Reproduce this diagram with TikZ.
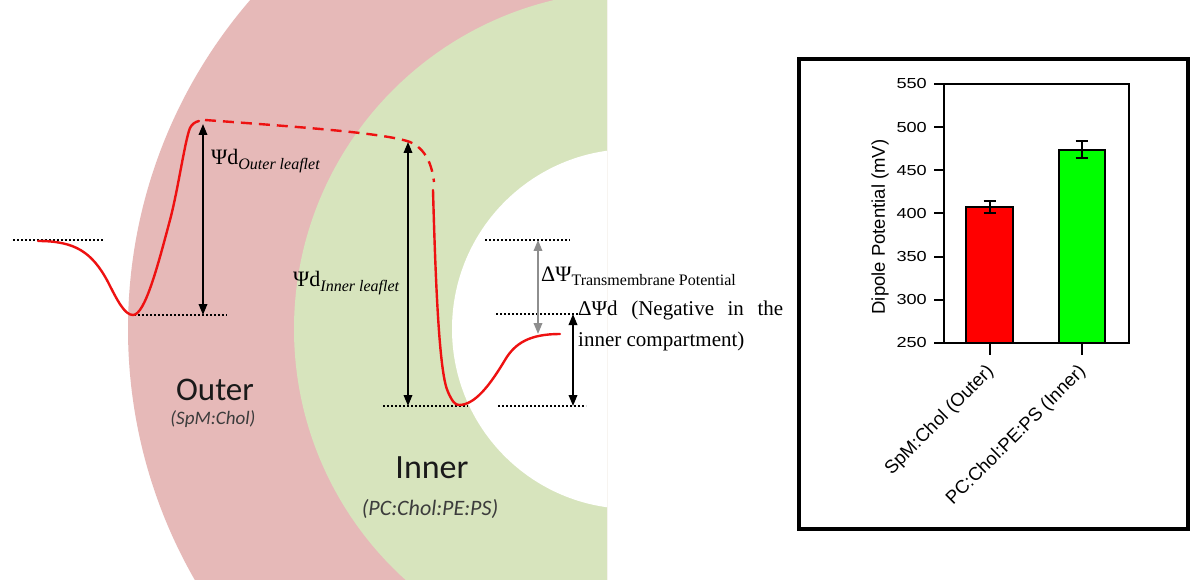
\documentclass[tikz,border=0pt]{standalone}
\usepackage{fontspec}
\setmainfont{Liberation Serif}
\newfontfamily\calfont{Carlito}
\newfontfamily\arialfont{Liberation Sans}
\usetikzlibrary{arrows.meta}
\definecolor{pinkbg}{HTML}{E6B9B8}
\definecolor{greenbg}{HTML}{D7E4BD}
\definecolor{redline}{HTML}{EE1111}
\definecolor{arrgray}{HTML}{8E8E8E}
\definecolor{txtdark}{HTML}{1A1A1A}
\definecolor{subgray}{HTML}{3C3C3C}
\definecolor{barred}{HTML}{FF0000}
\definecolor{bargreen}{HTML}{00FF00}
\begin{document}
\begin{tikzpicture}[x=1pt,y=-1pt,
  dotline/.style={line width=2pt, dash pattern=on 1.6pt off 2.4pt, black},
  potarrow/.style={line width=1.9pt, black, {Triangle[length=11pt,width=8.5pt]}-{Triangle[length=11pt,width=8.5pt]}},
  grayarrow/.style={line width=1.9pt, arrgray, {Triangle[length=11pt,width=8.5pt]}-{Triangle[length=11pt,width=8.5pt]}},
  redcurve/.style={line width=2.4pt, redline, line cap=round},
  reddashed/.style={line width=2.4pt, redline, dash pattern=on 11pt off 7pt},
  psilabel/.style={anchor=base west, inner sep=0pt, font=\fontsize{22}{26}\selectfont},
  leaflabel/.style={anchor=base, inner sep=0pt, text=txtdark},
  ticklab/.style={anchor=east, inner sep=0pt, font=\arialfont\fontsize{14.5}{16}\selectfont},
  catlab/.style={anchor=east, rotate=45, inner sep=0pt, font=\arialfont\fontsize{18.5}{20}\selectfont},
  chartline/.style={line width=2pt, black},
]
\useasboundingbox (0,0) rectangle (1200,580);
\fill[white] (0,0) rectangle (1200,580);

% membrane bands
\coordinate (C) at (632,329);
\begin{scope}
  \clip (0,0) rectangle (607,580);
  \fill[pinkbg] (C) circle[radius=504pt];
  \fill[greenbg] (C) circle[radius=338pt];
  \fill[white] (C) circle[radius=180pt];
\end{scope}

% dotted reference levels
\coordinate (d1a) at (13,240);  \coordinate (d1b) at (103,240);
\coordinate (d2a) at (134,315); \coordinate (d2b) at (227,315);
\coordinate (d3a) at (383,406); \coordinate (d3b) at (468,406);
\coordinate (d4a) at (498,406); \coordinate (d4b) at (586,406);
\coordinate (d5a) at (485,240); \coordinate (d5b) at (570,240);
\coordinate (d6a) at (496,314); \coordinate (d6b) at (580,314);
\draw[dotline] (d1a) -- (d1b);
\draw[dotline] (d2a) -- (d2b);
\draw[dotline] (d3a) -- (d3b);
\draw[dotline] (d4a) -- (d4b);
\draw[dotline] (d5a) -- (d5b);
\draw[dotline] (d6a) -- (d6b);

% potential profile
\draw[redcurve] (38,241) .. controls (75,241) and (92,252) .. (108,282)
  .. controls (118,302) and (125,315) .. (133,315)
  .. controls (145,315) and (158,265) .. (170,220)
  .. controls (178,190) and (185,140) .. (190,128)
  .. controls (192,124) and (195,122) .. (199,121);
\draw[reddashed] (205,120) .. controls (300,127) and (385,133) .. (410,142)
  .. controls (426,149) and (432,165) .. (434,182);
\draw[redcurve] (433,190) .. controls (436,300) and (440,375) .. (448,392)
  .. controls (452,401) and (455,405) .. (459,405)
  .. controls (475,405) and (490,385) .. (505,360)
  .. controls (515,343) and (530,334) .. (560,334);

% potential arrows
\coordinate (a1t) at (203,124); \coordinate (a1b) at (203,315);
\coordinate (a2t) at (408,142); \coordinate (a2b) at (408,406);
\coordinate (a3t) at (538,240); \coordinate (a3b) at (538,334);
\coordinate (a4t) at (573,314); \coordinate (a4b) at (573,406);
\draw[potarrow] (a1b) -- (a1t);
\draw[potarrow] (a2b) -- (a2t);
\draw[grayarrow] (a3b) -- (a3t);
\draw[potarrow] (a4b) -- (a4t);

% labels of the profile
\node[psilabel] (psiout) at (211,165) {Ψd\raisebox{-5pt}{\fontsize{16}{19}\selectfont\itshape Outer leaflet}};
\node[psilabel] (psiin) at (293,287) {Ψd\raisebox{-5pt}{\fontsize{16}{19}\selectfont\itshape Inner leaflet}};
\node[psilabel] (dtm) at (541,281) {ΔΨ\raisebox{-5pt}{\fontsize{16}{19}\selectfont Transmembrane Potential}};
\node[anchor=base west, inner sep=0pt, align=left, font=\fontsize{21}{31}\selectfont] (dpsi) at (578,346)
  {\makebox[205pt][s]{ΔΨd (Negative in the}\\inner\ compartment)};

% leaflet names
\node[leaflabel, font=\calfont\fontsize{33}{36}\selectfont] (outer) at (215,400) {Outer};
\node[leaflabel, text=subgray, font=\calfont\itshape\fontsize{19}{22}\selectfont] (outercomp) at (213,424) {(SpM:Chol)};
\node[leaflabel, font=\calfont\fontsize{34}{38}\selectfont] (inner) at (432,478) {Inner};
\node[leaflabel, text=subgray, font=\calfont\itshape\fontsize{22}{26}\selectfont] (innercomp) at (430,515) {(PC:Chol:PE:PS)};

% chart
\draw[line width=3.5pt, black] (799,59) rectangle (1188,529);
\draw[chartline, fill=barred] (966,343) rectangle (1013,206.6);
\draw[chartline, fill=bargreen] (1058.5,343) rectangle (1105,149.6);
\draw[chartline] (944,84) rectangle (1129,343);
% error bars
\draw[chartline] (989.5,200.6) -- (989.5,212.6);
\draw[chartline] (983.5,200.6) -- (995.5,200.6);
\draw[chartline] (983.5,212.6) -- (995.5,212.6);
\draw[chartline] (1081.7,141) -- (1081.7,158.2);
\draw[chartline] (1075.7,141) -- (1087.7,141);
\draw[chartline] (1075.7,158.2) -- (1087.7,158.2);
% y ticks
\foreach \v/\yy in {550/84,500/127.2,450/170.4,400/213.5,350/256.7,300/299.8,250/343}{
  \draw[chartline] (934,\yy) -- (944,\yy);
  \node[ticklab] (tick\v) at (927,\yy) {\scalebox{1.25}[1]{\v}};
}
% x ticks
\draw[chartline] (989.5,343) -- (989.5,355);
\draw[chartline] (1081.7,343) -- (1081.7,355);
\node[anchor=center, rotate=90, inner sep=0pt, font=\arialfont\fontsize{18.5}{20}\selectfont] (ylab) at (880,227) {Dipole Potential (mV)};
\node[catlab] (cat1) at (991,369) {SpM:Chol (Outer)};
\node[catlab] (cat2) at (1083,369) {PC:Chol:PE:PS (Inner)};
\end{tikzpicture}
\end{document}
